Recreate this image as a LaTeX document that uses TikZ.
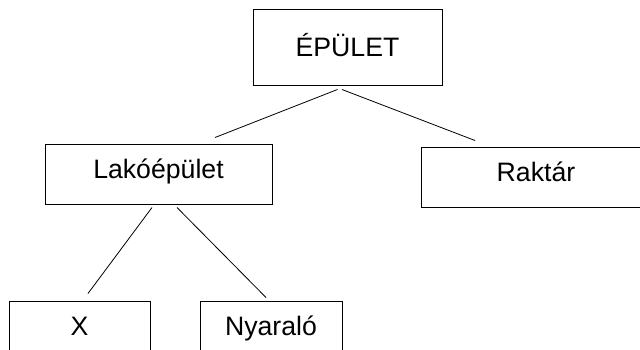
\documentclass[tikz,border=0pt]{standalone}
\usepackage{fontspec}
\setmainfont{Liberation Sans}
\usetikzlibrary{calc}
\begin{document}
\begin{tikzpicture}[x=0.75pt, y=-0.75pt,
  box/.style={draw, rectangle, line width=0.75pt, inner sep=0pt, minimum height=45pt,
    font=\fontsize{20}{24}\selectfont, text height=14.3pt, text depth=7.5pt},
  link/.style={line width=0.6pt}]
\clip (0, 0) rectangle (640, 350);
\node[box, minimum width=141.75pt, minimum height=57pt, text depth=0pt] (top) at (347.5, 47) {ÉPÜLET};
\node[box, minimum width=170.25pt] (midL) at (158.5, 174) {Lakóépület};
\node[box, minimum width=172.5pt] (midR) at (536, 177) {Raktár};
\node[box, minimum width=105.75pt] (bottomL) at (79.5, 331) {X};
\node[box, minimum width=106.5pt] (bottomR) at (271, 331) {Nyaraló};
\draw[link] ($(top.south)+(-10, 4)$) -- ($(midL.north)+(56.5, -6)$);
\draw[link] ($(top.south)+(-5.5, 4)$) -- ($(midR.north)+(-61, -6)$);
\draw[link] ($(midL.south)+(-6.5, 3)$) -- ($(bottomL.north)+(8.5, -7)$);
\draw[link] ($(midL.south)+(18.5, 3)$) -- ($(bottomR.north)+(-5, -3)$);
\end{tikzpicture}
\end{document}
